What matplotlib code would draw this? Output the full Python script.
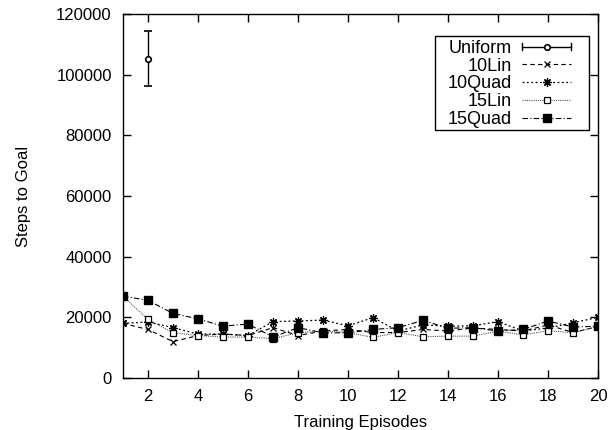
import matplotlib
matplotlib.use("Agg")
import matplotlib.pyplot as plt
from matplotlib.lines import Line2D
from matplotlib.patches import Rectangle
from matplotlib.legend_handler import HandlerBase

episodes = list(range(1, 21))

uniform_x = [2]
uniform_y = [105300]
uniform_err_lo = [9000]
uniform_err_hi = [9200]

lin10 = [18000, 16000, 12000, 14000, 14500, 14000, 16600, 14000, 15500, 16000,
         15000, 15000, 16000, 15500, 16500, 16000, 15500, 17500, 15000, 17000]
quad10 = [18000, 18500, 16600, 14500, 14500, 14000, 18600, 18800, 19100, 17200,
          19900, 15500, 17500, 17100, 17200, 18600, 15500, 16500, 18200, 20000]
lin15 = [27000, 19300, 14900, 14000, 13500, 13500, 13000, 14900, 15500, 15000,
         13400, 15000, 13600, 13800, 13800, 15500, 14200, 15600, 14900, 17000]
quad15 = [27000, 25600, 21300, 19500, 17100, 17800, 13500, 16600, 14900, 14900,
          16000, 16600, 19000, 16400, 16600, 15500, 16000, 18800, 16800, 17100]


class GnuplotKey(HandlerBase):
    """gnuplot-like key sample: line, marker in the middle, optional end caps."""

    def __init__(self, caps=False):
        super().__init__()
        self.caps = caps

    def create_artists(self, legend, orig, xdescent, ydescent, width, height, fontsize, trans):
        x0 = -xdescent
        x1 = x0 + width
        y = -ydescent + height / 2
        line = Line2D([x0, x1], [y, y])
        line.update_from(orig)
        line.set_marker("None")
        mk = Line2D([(x0 + x1) / 2], [y])
        mk.update_from(orig)
        mk.set_linestyle("None")
        arts = [line, mk]
        if self.caps:
            h = height * 0.3
            for xc in (x0, x1):
                arts.append(Line2D([xc, xc], [y - h, y + h], color=orig.get_color(), lw=1.0))
        for a in arts:
            a.set_transform(trans)
        return arts


plt.rcParams["font.family"] = ["Liberation Sans", "DejaVu Sans"]
plt.rcParams["font.size"] = 12

fig = plt.figure(figsize=(6.14, 4.30), dpi=100)
ax = fig.add_axes([0.2003, 0.1209, 0.7737, 0.8465])

ax.errorbar(uniform_x, uniform_y, yerr=[uniform_err_lo, uniform_err_hi], color="black",
            marker="o", markersize=4, mfc="white", mew=1.2, lw=1.0, capsize=3,
            elinewidth=1.0)
l1, = ax.plot(episodes, lin10, color="black", ls=(0, (4, 3)), lw=0.8, marker="x",
              markersize=5, mew=0.9)
l2, = ax.plot(episodes, quad10, color="black", ls=(0, (1.5, 2)), lw=0.9, marker=(8, 2, 0),
              markersize=6, mew=0.9)
l3, = ax.plot(episodes, lin15, color="#555555", ls=(0, (1, 1)), lw=0.8, marker="s",
              markersize=5, mfc="white", mec="black", mew=0.9)
l4, = ax.plot(episodes, quad15, color="black", ls=(0, (5, 2, 1, 2)), lw=0.8, marker="s",
              markersize=5.5, mfc="black", mec="black")
u_proxy = Line2D([], [], color="black", lw=1.0, marker="o", markersize=4, mfc="white", mew=1.2)

ax.set_xlim(1, 20)
ax.set_ylim(0, 120000)
ax.set_xticks(range(2, 21, 2))
ax.set_yticks(range(0, 120001, 20000))
ax.tick_params(direction="in", length=6, width=1, top=True, right=True, pad=8)
for s in ax.spines.values():
    s.set_linewidth(1.0)

ax.set_xlabel("Training Episodes", labelpad=8)
ax.set_ylabel("Steps to Goal", labelpad=18)

# key box (gnuplot style: wide side padding, tight top/bottom)
ax.add_patch(Rectangle((0.7085, 0.6977), 0.2508, 0.2186, transform=fig.transFigure,
                       facecolor="white", edgecolor="black", lw=1.0, zorder=4))

handles = [u_proxy, l1, l2, l3, l4]
labels = ["Uniform", "10Lin", "10Quad", "15Lin", "15Quad"]
hmap = {h: GnuplotKey() for h in handles}
hmap[u_proxy] = GnuplotKey(caps=True)
leg = ax.legend(handles, labels, handler_map=hmap, loc="upper right",
                bbox_to_anchor=(0.9432, 0.9286), markerfirst=False, frameon=False,
                fontsize=13, handlelength=2.71, borderpad=0, labelspacing=0.04,
                handletextpad=0.55, borderaxespad=0)
leg.set_zorder(5)

fig.savefig("out.png", dpi=100)
